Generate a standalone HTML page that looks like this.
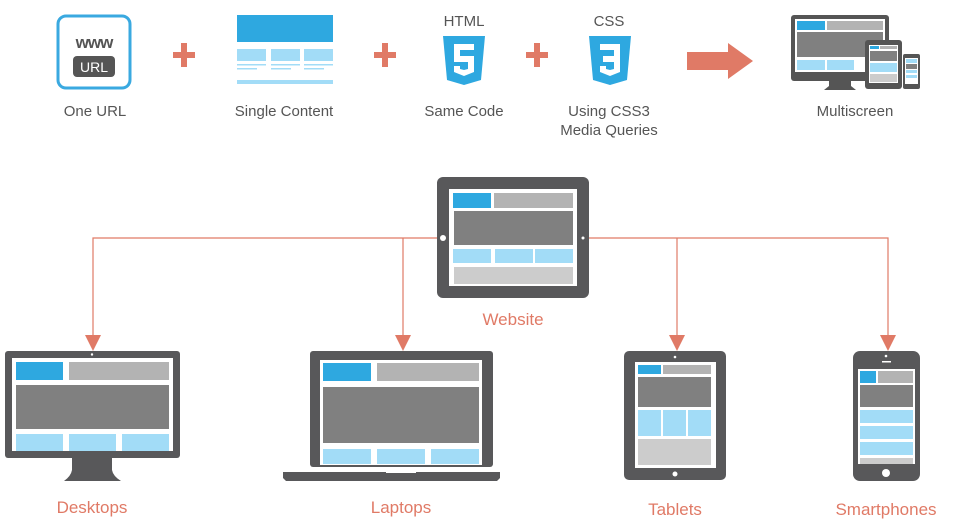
<!DOCTYPE html>
<html><head><meta charset="utf-8"><style>
html,body{margin:0;padding:0;background:#fff;}
svg{display:block;}
text{font-family:"Liberation Sans",sans-serif;}
</style></head><body>
<svg width="954" height="530" viewBox="0 0 954 530" xmlns="http://www.w3.org/2000/svg">
<!-- TOP ROW -->
<rect x="58" y="16" width="72" height="72" rx="8" fill="#fff" stroke="#3aa9e0" stroke-width="3"/>
<text x="94" y="48" font-size="17" font-weight="bold" fill="#555" text-anchor="middle" letter-spacing="-1">www</text>
<rect x="73" y="56" width="42" height="21" rx="4" fill="#555"/>
<text x="94" y="72" font-size="14" fill="#fff" text-anchor="middle">URL</text>
<text x="95" y="116" font-size="15" fill="#555" text-anchor="middle">One URL</text>

<g fill="#e07a66">
<rect x="173" y="52" width="22" height="6"/><rect x="181" y="43" width="6" height="24"/>
<rect x="374" y="52" width="22" height="6"/><rect x="382" y="43" width="6" height="24"/>
<rect x="526" y="52" width="22" height="6"/><rect x="534" y="43" width="6" height="24"/>
</g>

<rect x="237" y="15" width="96" height="27" fill="#2ea8e0"/>
<g fill="#a2dcf7">
<rect x="237" y="49" width="29" height="12"/><rect x="271" y="49" width="29" height="12"/><rect x="304" y="49" width="29" height="12"/>
<rect x="237" y="64" width="29" height="1.5"/><rect x="271" y="64" width="29" height="1.5"/><rect x="304" y="64" width="29" height="1.5"/>
<rect x="237" y="68" width="20" height="1.5"/><rect x="271" y="68" width="20" height="1.5"/><rect x="304" y="68" width="20" height="1.5"/>
<rect x="237" y="80" width="96" height="4"/>
</g>
<text x="284" y="116" font-size="15" fill="#555" text-anchor="middle">Single Content</text>

<text x="464" y="26" font-size="15" fill="#555" text-anchor="middle">HTML</text>
<path d="M443 36 H485 L481 80 L464 85 L447 80 Z" fill="#2ea8e0"/>
<path d="M454 44 H474 V50 H460 V56 H474 V72 L464 76 L454 72 V66 H460 V69 L464 70 L468 69 V62 H454 Z" fill="#fff"/>
<text x="464" y="116" font-size="15" fill="#555" text-anchor="middle">Same Code</text>

<text x="609" y="26" font-size="15" fill="#555" text-anchor="middle">CSS</text>
<path d="M589 36 H631 L627 80 L610 85 L593 80 Z" fill="#2ea8e0"/>
<path d="M600 44 H620 V72 L610 76 L600 72 V66 H606 V69 L610 70 L614 69 V62 H603 V56 H614 V50 H600 Z" fill="#fff"/>
<text x="609" y="116" font-size="15" fill="#555" text-anchor="middle">Using CSS3</text>
<text x="609" y="135" font-size="15" fill="#555" text-anchor="middle">Media Queries</text>

<path d="M687 52 H728 V43 L753 61 L728 79 V70 H687 Z" fill="#e07a66"/>

<!-- multiscreen -->
<rect x="791" y="15" width="98" height="66" rx="3" fill="#555"/>
<rect x="795" y="19" width="90" height="53" fill="#fff"/>
<rect x="797" y="21" width="28" height="9" fill="#2ea8e0"/><rect x="827" y="21" width="56" height="9" fill="#b3b3b3"/>
<rect x="797" y="32" width="86" height="25" fill="#808080"/>
<rect x="797" y="60" width="28" height="10" fill="#a2dcf7"/><rect x="827" y="60" width="27" height="10" fill="#a2dcf7"/>
<path d="M829 81 H851 V86 L856 90 H824 L829 86 Z" fill="#555"/>
<rect x="865" y="40" width="37" height="49" rx="3" fill="#555"/>
<rect x="869" y="45" width="29" height="38" fill="#fff"/>
<rect x="870" y="46" width="9" height="3" fill="#2ea8e0"/><rect x="880" y="46" width="17" height="3" fill="#b3b3b3"/>
<rect x="870" y="51" width="27" height="10" fill="#808080"/>
<rect x="870" y="63" width="27" height="9" fill="#a2dcf7"/><rect x="870" y="74" width="27" height="8" fill="#ccc"/>
<rect x="903" y="54" width="17" height="35" rx="2" fill="#555"/>
<rect x="905" y="58" width="13" height="26" fill="#fff"/>
<rect x="906" y="59" width="11" height="4" fill="#a2dcf7"/><rect x="906" y="64" width="11" height="5" fill="#808080"/>
<rect x="906" y="70" width="11" height="3" fill="#a2dcf7"/><rect x="906" y="75" width="11" height="3" fill="#a2dcf7"/>
<text x="855" y="116" font-size="15" fill="#555" text-anchor="middle">Multiscreen</text>

<!-- connectors -->
<g stroke="#e07a66" stroke-width="1.2" fill="none">
<path d="M93 336 V238 H888 V336"/>
<path d="M403 336 V238"/><path d="M677 336 V238"/>
</g>
<g fill="#e07a66">
<path d="M85 335 H101 L93 351 Z"/><path d="M395 335 H411 L403 351 Z"/>
<path d="M669 335 H685 L677 351 Z"/><path d="M880 335 H896 L888 351 Z"/>
</g>

<!-- website tablet -->
<rect x="437" y="177" width="152" height="121" rx="6" fill="#58585a"/>
<rect x="449" y="189" width="128" height="97" fill="#fff"/>
<rect x="453" y="193" width="38" height="15" fill="#2ea8e0"/><rect x="494" y="193" width="79" height="15" fill="#b3b3b3"/>
<rect x="454" y="211" width="119" height="34" fill="#808080"/>
<rect x="453" y="249" width="38" height="14" fill="#a2dcf7"/><rect x="495" y="249" width="38" height="14" fill="#a2dcf7"/><rect x="535" y="249" width="38" height="14" fill="#a2dcf7"/>
<rect x="454" y="267" width="119" height="17" fill="#ccc"/>
<circle cx="443" cy="238" r="3" fill="#fff"/><circle cx="583" cy="238" r="1.5" fill="#fff"/>
<text x="513" y="325" font-size="17" fill="#e07a66" text-anchor="middle">Website</text>

<!-- desktop -->
<rect x="5" y="351" width="175" height="107" rx="3" fill="#58585a"/>
<rect x="12" y="358" width="161" height="93" fill="#fff"/>
<circle cx="92" cy="354.5" r="1.2" fill="#fff"/>
<rect x="16" y="362" width="47" height="18" fill="#2ea8e0"/><rect x="69" y="362" width="100" height="18" fill="#b3b3b3"/>
<rect x="16" y="385" width="153" height="44" fill="#808080"/>
<rect x="16" y="434" width="47" height="17" fill="#a2dcf7"/><rect x="69" y="434" width="47" height="17" fill="#a2dcf7"/><rect x="122" y="434" width="47" height="17" fill="#a2dcf7"/>
<path d="M72 458 H112 V470 Q113 476 121 481 H64 Q71 476 72 470 Z" fill="#58585a"/>
<text x="92" y="513" font-size="17" fill="#e07a66" text-anchor="middle">Desktops</text>

<!-- laptop -->
<rect x="310" y="351" width="183" height="116" rx="3" fill="#58585a"/>
<rect x="320" y="360" width="162" height="105" fill="#fff"/>
<rect x="323" y="363" width="48" height="18" fill="#2ea8e0"/><rect x="377" y="363" width="102" height="18" fill="#b3b3b3"/>
<rect x="323" y="387" width="156" height="56" fill="#808080"/>
<rect x="323" y="449" width="48" height="15" fill="#a2dcf7"/><rect x="377" y="449" width="48" height="15" fill="#a2dcf7"/><rect x="431" y="449" width="48" height="15" fill="#a2dcf7"/>
<path d="M283 472 H500 V478 L497 481 H286 L283 478 Z" fill="#58585a"/>
<rect x="386" y="471" width="30" height="2" fill="#fff"/>
<text x="401" y="513" font-size="17" fill="#e07a66" text-anchor="middle">Laptops</text>

<!-- tablet -->
<rect x="624" y="351" width="102" height="129" rx="5" fill="#58585a"/>
<rect x="635" y="362" width="81" height="106" fill="#fff"/>
<circle cx="675" cy="357" r="1.3" fill="#fff"/><circle cx="675" cy="474" r="2.5" fill="#fff"/>
<rect x="638" y="365" width="23" height="9" fill="#2ea8e0"/><rect x="663" y="365" width="48" height="9" fill="#b3b3b3"/>
<rect x="638" y="377" width="73" height="30" fill="#808080"/>
<rect x="638" y="410" width="23" height="26" fill="#a2dcf7"/><rect x="663" y="410" width="23" height="26" fill="#a2dcf7"/><rect x="688" y="410" width="23" height="26" fill="#a2dcf7"/>
<rect x="638" y="439" width="73" height="26" fill="#ccc"/>
<text x="675" y="515" font-size="17" fill="#e07a66" text-anchor="middle">Tablets</text>

<!-- phone -->
<rect x="853" y="351" width="67" height="130" rx="7" fill="#58585a"/>
<rect x="858" y="369" width="57" height="95" fill="#fff"/>
<circle cx="886" cy="356" r="1.3" fill="#fff"/><rect x="882" y="361" width="9" height="1.5" fill="#fff"/>
<circle cx="886" cy="473" r="4" fill="#fff"/>
<rect x="860" y="371" width="16" height="12" fill="#2ea8e0"/><rect x="878" y="371" width="35" height="12" fill="#b3b3b3"/>
<rect x="860" y="385" width="53" height="22" fill="#808080"/>
<rect x="860" y="410" width="53" height="13" fill="#a2dcf7"/><rect x="860" y="426" width="53" height="13" fill="#a2dcf7"/><rect x="860" y="442" width="53" height="13" fill="#a2dcf7"/>
<rect x="860" y="458" width="53" height="6" fill="#ccc"/>
<text x="886" y="515" font-size="17" fill="#e07a66" text-anchor="middle">Smartphones</text>
</svg>
</body></html>
